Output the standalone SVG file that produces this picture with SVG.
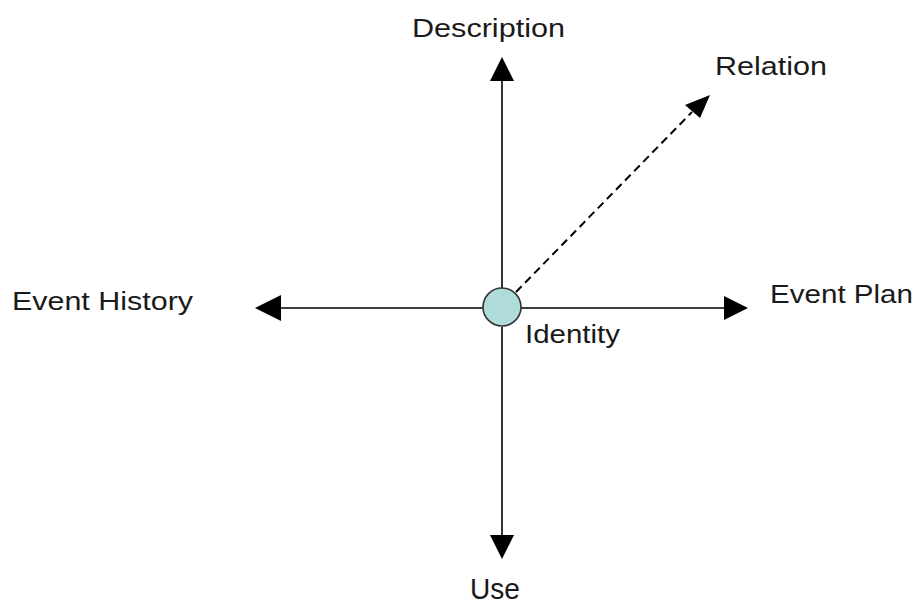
<svg xmlns="http://www.w3.org/2000/svg" width="923" height="610" viewBox="0 0 923 610">
<style>
.lbl{font-family:"Liberation Sans",Arial,sans-serif;font-size:25px;fill:#1a1a1a}
.ln{stroke:#000;stroke-width:1.6;fill:none}
.dash{stroke:#000;stroke-width:2;fill:none;stroke-dasharray:8 5}
.ah{fill:#000}
</style>
<rect width="923" height="610" fill="#fff"/>
<g id="connectors">
<line class="ln" x1="502" y1="80" x2="502" y2="289"/>
<polygon class="ah" points="502,57 490,81 514,81"/>
<line class="ln" x1="502" y1="327" x2="502" y2="536"/>
<polygon class="ah" points="502,559 490,535 514,535"/>
<line class="ln" x1="280" y1="308" x2="483" y2="308"/>
<polygon class="ah" points="255,308 281,295 281,321"/>
<line class="ln" x1="521" y1="308" x2="726" y2="308"/>
<polygon class="ah" points="748,308 724,296 724,320"/>
<line class="dash" x1="516" y1="292" x2="692" y2="112"/>
<polygon class="ah" points="710,95 685,105 700,118"/>
</g>
<g id="identity">
<circle cx="502" cy="307" r="19" fill="#b0dcdc" stroke="#333" stroke-width="1.6"/>
<text class="lbl" x="525" y="343" textLength="95" lengthAdjust="spacingAndGlyphs">Identity</text>
</g>
<g id="description"><text class="lbl" x="412" y="37" textLength="153" lengthAdjust="spacingAndGlyphs">Description</text></g>
<g id="relation"><text class="lbl" x="715" y="75" textLength="112" lengthAdjust="spacingAndGlyphs">Relation</text></g>
<g id="event-plan"><text class="lbl" x="770" y="303" textLength="143" lengthAdjust="spacingAndGlyphs">Event Plan</text></g>
<g id="event-history"><text class="lbl" x="12" y="310" textLength="181" lengthAdjust="spacingAndGlyphs">Event History</text></g>
<g id="use"><text class="lbl" x="470" y="599" style="font-size:29px" textLength="50" lengthAdjust="spacingAndGlyphs">Use</text></g>
</svg>
